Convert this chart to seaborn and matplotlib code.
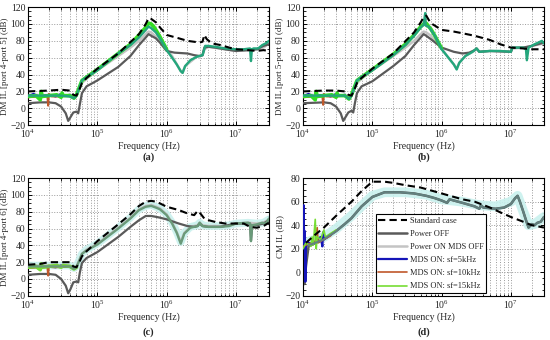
import numpy as np
import matplotlib
matplotlib.use("Agg")
import matplotlib.pyplot as plt
import seaborn as sns
from matplotlib.lines import Line2D
from matplotlib.ticker import LogLocator, MultipleLocator, NullFormatter

# ---------------------------------------------------------------
# Data
# ---------------------------------------------------------------
# (a) DM IL port 4 - port 5
a_std_f = [1e4, 2e4, 3e4, 4e4, 4.5e4, 5e4, 5.5e4, 6e4, 7e4, 1e5, 2e5, 4e5, 5e5, 5.5e5, 6e5, 7e5, 8e5,
           1e6, 1.5e6, 2e6, 3e6, 3.3e6, 3.5e6, 3.8e6, 4.5e6, 6e6, 8e6, 1e7, 1.5e7, 2e7, 2.5e7, 3e7]
a_std_db = [20, 21, 22, 21, 16, 15, 22, 30, 36, 47, 65, 88, 100, 107, 106, 102, 96,
            87, 83, 80, 78, 79, 87, 82, 77, 75, 72, 70, 69, 68, 69, 68]
a_off_f = [1e4, 1.5e4, 2e4, 2.5e4, 3e4, 3.5e4, 3.8e4, 4e4, 4.5e4, 5e4, 5.3e4, 5.6e4, 6e4, 7e4, 1e5, 2e5,
           3e5, 4e5, 5e5, 5.5e5, 6e5, 7e5, 8e5, 1e6, 1.3e6, 2e6, 2.5e6, 3e6, 3.3e6, 3.5e6, 4e6, 5e6,
           7e6, 1e7, 1.5e7, 2e7, 2.5e7, 3e7]
a_off_db = [6, 7, 7, 6, 2, -6, -15, -12, -5, -4, -6, 5, 18, 26, 33, 49,
            62, 75, 84, 88, 86, 83, 78, 68, 66, 65, 63, 62, 63, 72, 73, 72,
            70, 68, 69, 70, 74, 76]
a_on_f = [1e4, 4e4, 4.6e4, 5e4, 6e4, 7e4, 1e5, 2e5, 3e5, 4e5, 5e5, 5.5e5, 6e5, 7e5, 8e5, 1e6, 1.2e6,
          1.6e6, 1.7e6, 1.85e6, 2.7e6, 3.3e6, 3.5e6, 4e6, 7e6, 1e7, 1.6e7, 2e7, 2.5e7, 3e7]
a_on_db = [16, 15, 12, 16, 30, 35, 45, 62, 72, 80, 88, 91, 90, 85, 80, 70, 62,
           44, 42, 50, 61, 63, 70, 73, 70, 68, 69, 70, 72, 77]
a_mds_f = [1e4, 1.5e4, 2e4, 3e4, 4e4, 4.6e4, 5e4, 5.5e4, 6e4, 7e4, 1e5, 2e5, 3e5, 4e5, 5e5, 5.5e5,
           6e5, 7e5, 8e5, 1e6, 1.2e6, 1.4e6, 1.6e6, 1.7e6, 1.85e6, 2.2e6, 2.7e6, 3.3e6, 3.5e6,
           3.6e6, 4e6, 5e6, 7e6, 1e7, 1.3e7, 1.6e7, 1.65e7, 1.7e7, 1.8e7, 2.1e7, 2.4e7, 2.7e7, 3e7]
a_mds_db = [15, 15, 15, 15, 14, 12, 15, 24, 33, 37, 45, 65, 75, 84, 93, 97,
            95, 90, 83, 69, 60, 52, 44, 42, 50, 57, 61, 63, 70,
            74, 74, 73, 71, 70, 70, 71, 56, 70, 71, 71, 75, 77, 80]
a_5k_f = [1e4, 1.2e4, 1.4e4, 2e4, 2.5e4, 3e4, 3.5e4, 4e4, 4.6e4, 5e4]
a_5k_db = [14, 17, 14, 16, 14, 17, 15, 16, 12, 15]
a_10k_f = [1e4, 1.5e4, 1.9e4, 1.95e4, 2e4, 2.2e4, 3e4, 4e4, 4.6e4, 5e4]
a_10k_db = [13, 14, 14, 3, 17, 14, 14, 15, 12, 15]
a_15k_f = [1e4, 1.3e4, 1.5e4, 1.55e4, 1.6e4, 2e4, 2.6e4, 3e4, 3.1e4, 3.2e4, 4e4, 4.6e4, 5e4, 6e4,
           7e4, 1e5, 2e5, 3e5, 4e5, 5e5, 5.5e5, 6e5, 6.5e5, 7e5, 8e5, 1e6]
a_15k_db = [14, 15, 10, 20, 14, 15, 16, 13, 18, 15, 15, 12, 16, 33,
            37, 46, 65, 76, 87, 96, 101, 100, 97, 93, 85, 70]

# (b) DM IL port 5 - port 6
b_std_f = [1e4, 2e4, 3e4, 4e4, 4.5e4, 5e4, 5.5e4, 6e4, 7e4, 1e5, 2e5, 4e5, 5e5, 5.5e5, 6e5, 6.5e5,
           7e5, 8e5, 1e6, 1.5e6, 2e6, 3e6, 5e6, 7e6, 1e7, 1.5e7, 2e7, 3e7]
b_std_db = [20, 21, 21, 20, 16, 15, 22, 30, 36, 47, 65, 90, 102, 108, 110, 105,
            101, 98, 93, 91, 89, 86, 81, 76, 72, 71, 70, 70]
b_off_f = [1e4, 2e4, 2.5e4, 3e4, 3.5e4, 3.8e4, 4e4, 4.5e4, 5e4, 5.3e4, 5.6e4, 6e4, 7e4, 1e5, 2e5,
           3e5, 4e5, 5e5, 5.5e5, 6e5, 7e5, 1e6, 1.5e6, 2e6, 2.5e6, 3e6, 3.2e6, 3.5e6, 5e6, 1e7,
           1.05e7, 1.5e7, 2e7, 3e7]
b_off_db = [6, 7, 6, 2, -6, -15, -12, -5, -3, -5, 6, 18, 26, 32, 50,
            62, 75, 84, 88, 86, 82, 72, 67, 65, 66, 69, 71, 67, 68, 67,
            72, 72, 74, 78]
b_on_f = [1e4, 4e4, 4.6e4, 5e4, 6e4, 7e4, 1e5, 2e5, 3e5, 4e5, 5e5, 5.5e5, 6e5, 7e5, 8e5, 1e6,
          1.2e6, 1.5e6, 1.65e6, 1.8e6, 2.2e6, 2.8e6, 3.2e6, 3.5e6, 5e6, 1e7, 1.05e7, 1.6e7, 2e7, 3e7]
b_on_db = [16, 15, 11, 15, 30, 35, 45, 62, 72, 80, 88, 91, 90, 86, 80, 71,
           62, 52, 47, 54, 62, 67, 70, 67, 68, 67, 71, 72, 74, 77]
b_mds_f = [1e4, 2e4, 4e4, 4.6e4, 5e4, 5.5e4, 6e4, 7e4, 1e5, 2e5, 3e5, 4e5, 5e5, 5.5e5, 5.8e5, 5.9e5,
           6.5e5, 7e5, 8e5, 1e6, 1.2e6, 1.5e6, 1.65e6, 1.8e6, 2.2e6, 2.8e6, 3.2e6, 3.5e6, 5e6, 7e6,
           1e7, 1.05e7, 1.5e7, 1.65e7, 1.7e7, 1.8e7, 2.2e7, 2.5e7, 2.8e7, 3e7]
b_mds_db = [15, 15, 15, 11, 15, 24, 33, 37, 45, 63, 75, 86, 96, 99, 113, 98,
            97, 93, 86, 70, 62, 52, 46, 54, 62, 67, 71, 67, 68, 68,
            67, 72, 72, 70, 57, 72, 76, 78, 80, 77]
b_5k_f = [1e4, 1.2e4, 1.4e4, 2e4, 2.5e4, 3e4, 3.5e4, 4e4, 4.6e4, 5e4]
b_5k_db = [14, 17, 14, 16, 14, 17, 15, 16, 11, 15]
b_10k_f = [1e4, 1.5e4, 1.9e4, 1.95e4, 2e4, 2.2e4, 3e4, 4e4, 4.6e4, 5e4]
b_10k_db = [13, 14, 14, 4, 17, 14, 14, 15, 11, 15]
b_15k_f = [1e4, 1.3e4, 1.5e4, 1.55e4, 1.6e4, 2e4, 2.6e4, 3e4, 3.1e4, 3.2e4, 4e4, 4.6e4, 5e4, 6e4,
           7e4, 1e5, 2e5, 3e5, 4e5, 5e5, 5.5e5, 6e5, 6.5e5, 7e5, 8e5, 1e6]
b_15k_db = [14, 15, 10, 20, 14, 15, 16, 13, 18, 15, 15, 11, 16, 33,
            37, 46, 64, 76, 87, 97, 100, 101, 97, 94, 86, 71]

# (c) DM IL port 4 - port 6
c_std_f = [1e4, 1.5e4, 2e4, 3e4, 4e4, 4.5e4, 5e4, 5.5e4, 6e4, 7e4, 1e5, 2e5, 3e5, 4e5, 5e5, 6e5, 7e5,
           8e5, 1e6, 1.5e6, 2e6, 2.5e6, 2.8e6, 3e6, 3.5e6, 4e6, 5e6, 7e6, 1e7, 1.3e7, 1.6e7, 2e7,
           2.5e7, 3e7]
c_std_db = [17, 18, 20, 20, 20, 15, 14, 20, 27, 33, 45, 65, 77, 87, 92, 93, 92,
            90, 86, 82, 78, 76, 81, 79, 72, 70, 68, 66, 66, 66, 62, 61,
            63, 67]
c_off_f = [1e4, 1.5e4, 2e4, 2.5e4, 3e4, 3.5e4, 3.8e4, 4.1e4, 4.5e4, 5e4, 5.3e4, 5.6e4, 6e4, 7e4, 1e5,
           2e5, 3e5, 4e5, 5e5, 6e5, 7e5, 8e5, 1e6, 1.5e6, 2e6, 2.5e6, 2.8e6, 3e6, 3.3e6, 4e6, 6e6,
           1e7, 1.6e7, 1.65e7, 1.72e7, 2e7, 2.5e7, 3e7]
c_off_db = [5, 6, 6, 5, 0, -8, -17, -12, -4, -3, -4, 8, 19, 25, 32,
            50, 62, 70, 75, 75, 74, 73, 71, 66, 63, 62, 63, 66, 63, 62, 62,
            66, 66, 46, 64, 64, 66, 70]
c_on_f = [1e4, 4e4, 4.6e4, 5e4, 6e4, 7e4, 1e5, 2e5, 3e5, 4e5, 5e5, 6e5, 7e5, 8e5, 1e6, 1.2e6,
          1.4e6, 1.6e6, 1.8e6, 2.2e6, 2.8e6, 3e6, 3.3e6, 4e6, 6e6, 8e6, 1e7, 1.5e7, 2e7, 2.5e7, 3e7]
c_on_db = [16, 16, 13, 15, 30, 35, 42, 61, 73, 83, 87, 88, 86, 84, 77, 67,
           56, 44, 55, 62, 64, 67, 64, 63, 63, 64, 66, 67, 66, 67, 71]
c_mds_f = [1e4, 2e4, 4e4, 4.6e4, 5e4, 5.5e4, 6e4, 7e4, 1e5, 2e5, 3e5, 4e5, 5e5, 6e5, 7e5, 8e5,
           1e6, 1.2e6, 1.4e6, 1.6e6, 1.8e6, 2.2e6, 2.8e6, 3e6, 3.3e6, 4e6, 6e6, 8e6, 1e7, 1.5e7,
           1.6e7, 1.65e7, 1.72e7, 2e7, 2.4e7, 2.7e7, 3e7]
c_mds_db = [15, 15, 15, 12, 14, 22, 30, 34, 41, 60, 72, 82, 86, 87, 85, 83,
            76, 66, 55, 42, 54, 61, 63, 67, 63, 62, 62, 63, 66, 67,
            66, 45, 64, 65, 67, 66, 72]
c_5k_f = [1e4, 1.2e4, 1.4e4, 2e4, 2.5e4, 3e4, 3.5e4, 4e4, 4.6e4, 5e4]
c_5k_db = [13, 16, 14, 15, 14, 16, 15, 15, 12, 14]
c_10k_f = [1e4, 1.5e4, 1.9e4, 1.95e4, 2e4, 2.2e4, 3e4, 4e4, 4.6e4, 5e4]
c_10k_db = [13, 14, 14, 4, 16, 14, 14, 15, 12, 14]
c_15k_f = [1e4, 1.3e4, 1.5e4, 1.55e4, 1.6e4, 2e4, 2.6e4, 3e4, 3.2e4, 4e4, 4.6e4, 5e4]
c_15k_db = [14, 15, 11, 18, 14, 15, 16, 14, 16, 15, 12, 14]

# (d) CM IL
d_std_f = [1.1e4, 1.5e4, 2e4, 3e4, 5e4, 7e4, 1e5, 1.5e5, 2e5, 3e5, 5e5, 1e6, 2e6, 3e6, 5e6, 7e6,
           1e7, 1.5e7, 2e7, 3e7]
d_std_db = [25, 32, 38, 48, 60, 69, 77, 77, 76, 74, 72, 67, 62, 60, 55, 51,
            47, 43, 40, 38]
d_off_f = [1e4, 1.05e4, 1.1e4, 1.2e4, 1.5e4, 2e4, 3e4, 4e4, 5e4, 7e4, 1e5, 1.5e5, 2.5e5, 4e5, 6e5,
           8e5, 1e6, 1.2e6, 1.3e6, 1.5e6, 2e6, 3e6, 3.5e6, 3.7e6, 4e6, 6e6, 8e6, 1e7, 1.15e7,
           1.25e7, 1.35e7, 1.5e7, 1.7e7, 1.8e7, 2e7, 2.2e7, 2.4e7, 2.7e7, 3e7]
d_off_db = [5, -10, 5, 22, 25, 28, 35, 41, 46, 56, 64, 68, 68, 67, 65,
            63, 61, 59, 62, 61, 59, 56, 54, 57, 55, 54, 55, 58, 63,
            65, 60, 52, 42, 38, 41, 40, 42, 43, 47]
d_on_f = [1.2e4, 2e4, 3e4, 5e4, 1e5, 1.5e5, 3e5, 6e5, 1e6, 2e6, 3.5e6, 6e6, 1e7, 1.25e7, 1.5e7,
          1.8e7, 2.2e7, 3e7]
d_on_db = [26, 30, 37, 48, 65, 68, 68, 66, 62, 60, 57, 56, 60, 65, 52,
           40, 41, 47]
d_mds_f = [1.2e4, 1.5e4, 2e4, 3e4, 4e4, 5e4, 7e4, 1e5, 1.5e5, 2.5e5, 4e5, 6e5, 8e5, 1e6, 1.2e6,
           1.3e6, 1.5e6, 2e6, 3e6, 3.5e6, 3.7e6, 4e6, 6e6, 8e6, 1e7, 1.15e7, 1.25e7, 1.35e7, 1.5e7,
           1.7e7, 1.8e7, 2e7, 2.2e7, 2.4e7, 2.7e7, 3e7]
d_mds_db = [23, 25, 28, 35, 41, 46, 56, 64, 68, 68, 67, 65, 63, 61, 59,
            62, 61, 59, 56, 54, 57, 55, 54, 55, 58, 63, 65, 60, 52,
            42, 38, 41, 40, 42, 43, 47]
d_5k_f = [1e4, 1.02e4, 1.04e4, 1.06e4, 1.08e4, 1.1e4, 1.2e4, 1.4e4, 1.6e4, 1.8e4, 1.9e4, 1.95e4,
          2e4, 2.5e4]
d_5k_db = [25, 57, 20, 35, -8, 22, 25, 24, 28, 30, 22, 34, 28, 32]
d_10k_f = [1e4, 1.2e4, 1.5e4, 1.6e4, 1.65e4, 2e4, 2.5e4]
d_10k_db = [22, 24, 26, 38, 25, 28, 31]
d_15k_f = [1e4, 1.1e4, 1.3e4, 1.35e4, 1.4e4, 1.5e4, 1.55e4, 1.6e4, 1.8e4, 2e4, 2.1e4, 2.5e4, 3e4]
d_15k_db = [20, 25, 22, 30, 23, 45, 20, 30, 28, 36, 30, 33, 36]

legend_labels = ["Standard case", "Power OFF", "Power ON MDS OFF",
                 "MDS ON: sf=5kHz", "MDS ON: sf=10kHz", "MDS ON: sf=15kHz"]

# ---------------------------------------------------------------
# Style
# ---------------------------------------------------------------
C_STD = "black"
C_OFF = "#5a5a5a"
C_ON = "#c4c4c4"
C_5K = "#1515b8"
C_10K = "#c0582a"
C_15K = "#77dd33"
C_MIX_DM = "#24a67c"
C_MIX_CM = "#62817f"
C_GLOW = "#c9f1ee"

sns.set_theme(style="ticks")
plt.rcParams["font.family"] = ["Liberation Serif", "DejaVu Serif"]
plt.rcParams["mathtext.fontset"] = "stix"
plt.rcParams["font.size"] = 6.5


def trace(ax, f, db, color, lw, ls="-", alpha=1.0, z=2):
    sns.lineplot(x=f, y=db, ax=ax, color=color, linewidth=lw, linestyle=ls,
                 alpha=alpha, zorder=z, estimator=None, sort=False, legend=False)


def dashed(ax, f, db):
    sns.lineplot(x=f, y=db, ax=ax, color=C_STD, linewidth=1.5, zorder=6,
                 estimator=None, sort=False, legend=False)
    ax.lines[-1].set_dashes((3.5, 2))


def style_axes(ax, ylabel, ymin, ymax):
    ax.set_xscale("log")
    ax.set_xlim(1e4, 3e7)
    ax.set_ylim(ymin, ymax)
    ax.yaxis.set_major_locator(MultipleLocator(20))
    ax.yaxis.set_minor_locator(MultipleLocator(5))
    ax.xaxis.set_major_locator(LogLocator(base=10))
    ax.xaxis.set_minor_locator(LogLocator(base=10, subs=np.arange(2, 10)))
    ax.xaxis.set_minor_formatter(NullFormatter())
    ax.grid(True, which="major", axis="both", color="#9a9a9a", linestyle=":", linewidth=0.7)
    ax.grid(True, which="minor", axis="x", color="#9a9a9a", linestyle=":", linewidth=0.7)
    ax.tick_params(which="both", direction="in", top=True, right=True, labelsize=7,
                   color="black", pad=2)
    ax.tick_params(which="major", length=3, width=0.7)
    ax.tick_params(which="minor", length=1.8, width=0.6)
    for s in ax.spines.values():
        s.set_color("black")
        s.set_linewidth(0.8)
    ax.set_xlabel("Frequency (Hz)", fontsize=7, labelpad=1)
    ax.set_ylabel(ylabel, fontsize=6.5, labelpad=1)


def dm_panel(ax, std, off, on, mds, k5, k10, k15, ylabel, glow=False):
    if glow:
        trace(ax, on[0], on[1], C_GLOW, 5.5, alpha=0.9, z=1)
    trace(ax, on[0], on[1], C_ON, 1.8, z=2)
    trace(ax, off[0], off[1], C_OFF, 1.6, z=3)
    trace(ax, k5[0], k5[1], C_5K, 1.6, z=3)
    trace(ax, k10[0], k10[1], C_10K, 1.4, z=3)
    trace(ax, k15[0], k15[1], C_15K if glow else "#33dd22", 2.6, z=3)
    trace(ax, mds[0], mds[1], C_MIX_DM if not glow else "#6a9a7a", 1.7, z=4)
    dashed(ax, std[0], std[1])
    style_axes(ax, ylabel, -20, 120)


fig = plt.figure(figsize=(5.5, 3.4), dpi=100)
ax_a = fig.add_axes([0.051, 0.632, 0.438, 0.347])
ax_b = fig.add_axes([0.551, 0.632, 0.438, 0.347])
ax_c = fig.add_axes([0.051, 0.13, 0.438, 0.346])
ax_d = fig.add_axes([0.551, 0.13, 0.438, 0.346])

dm_panel(ax_a, (a_std_f, a_std_db), (a_off_f, a_off_db), (a_on_f, a_on_db), (a_mds_f, a_mds_db),
         (a_5k_f, a_5k_db), (a_10k_f, a_10k_db), (a_15k_f, a_15k_db), "DM IL [port 4-port 5] (dB)")
dm_panel(ax_b, (b_std_f, b_std_db), (b_off_f, b_off_db), (b_on_f, b_on_db), (b_mds_f, b_mds_db),
         (b_5k_f, b_5k_db), (b_10k_f, b_10k_db), (b_15k_f, b_15k_db), "DM IL [port 5-port 6] (dB)")
dm_panel(ax_c, (c_std_f, c_std_db), (c_off_f, c_off_db), (c_on_f, c_on_db), (c_mds_f, c_mds_db),
         (c_5k_f, c_5k_db), (c_10k_f, c_10k_db), (c_15k_f, c_15k_db), "DM IL [port 4-port 6] (dB)",
         glow=True)

# (d) CM
trace(ax_d, d_on_f, d_on_db, C_GLOW, 7, alpha=0.9, z=1)
trace(ax_d, d_off_f, d_off_db, C_OFF, 1.8, z=2)
trace(ax_d, d_5k_f, d_5k_db, C_5K, 1.6, z=3)
trace(ax_d, d_10k_f, d_10k_db, C_10K, 1.2, z=3)
trace(ax_d, d_15k_f, d_15k_db, C_15K, 1.2, z=3)
trace(ax_d, d_mds_f, d_mds_db, C_MIX_CM, 1.5, z=4)
dashed(ax_d, d_std_f, d_std_db)
style_axes(ax_d, "CM IL (dB)", -20, 80)

handles = [
    Line2D([], [], color=C_STD, lw=1.5, dashes=(3.5, 2)),
    Line2D([], [], color=C_OFF, lw=1.8),
    Line2D([], [], color=C_ON, lw=1.8),
    Line2D([], [], color=C_5K, lw=1.6),
    Line2D([], [], color=C_10K, lw=1.2),
    Line2D([], [], color=C_15K, lw=1.2),
]
leg = ax_d.legend(handles, legend_labels, loc="lower left", bbox_to_anchor=(0.295, 0.01),
                  fontsize=6, frameon=True, fancybox=False, framealpha=1,
                  handlelength=3.4, labelspacing=0.62, borderpad=0.3, handletextpad=0.4,
                  borderaxespad=0.2)
leg.get_frame().set_edgecolor("black")
leg.get_frame().set_linewidth(0.8)
leg.set_zorder(10)

for ax, lab in [(ax_a, "(a)"), (ax_b, "(b)"), (ax_c, "(c)"), (ax_d, "(d)")]:
    pos = ax.get_position()
    y = 0.538 if pos.y0 > 0.5 else 0.024
    fig.text(pos.x0 + pos.width / 2, y, lab, ha="center", va="center",
             fontsize=7.5, fontweight="bold")

fig.savefig("out.png", dpi=100)
